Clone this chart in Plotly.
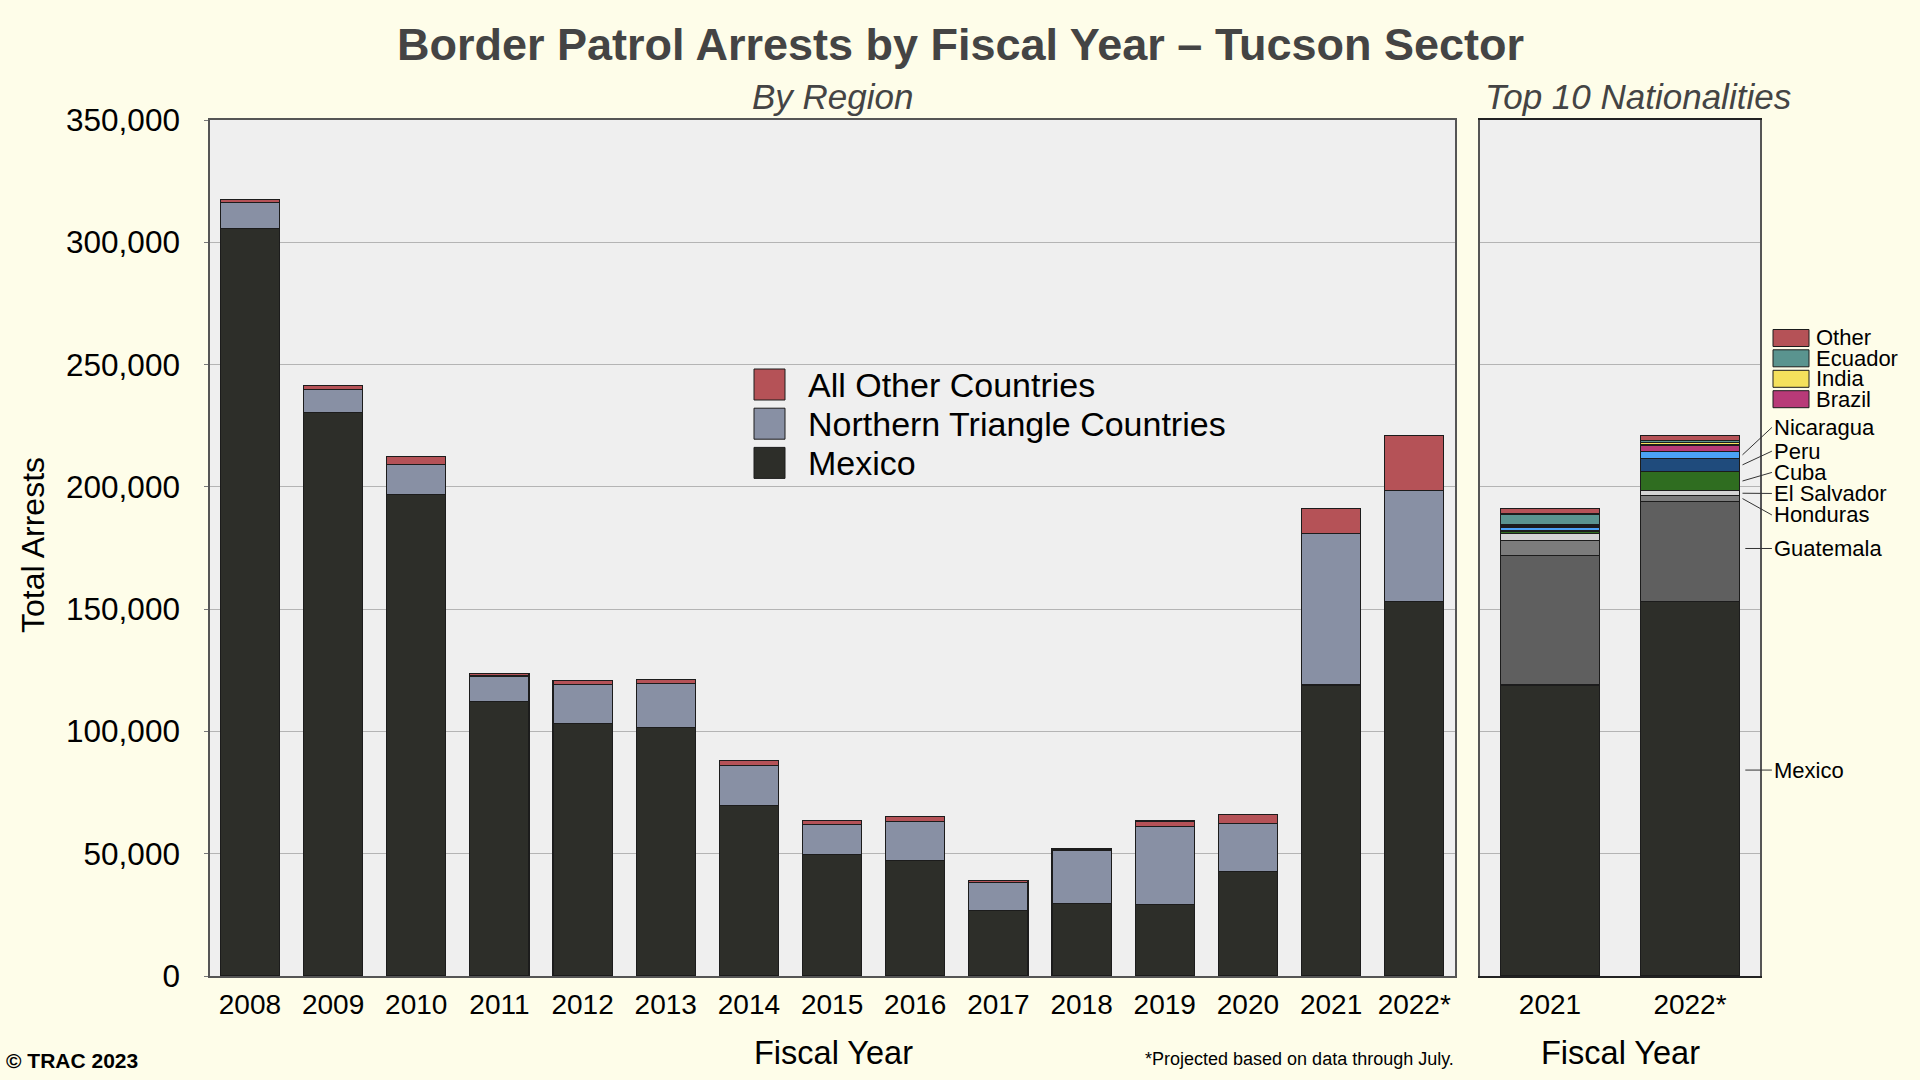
import plotly.graph_objects as go

# ---------------- data ----------------
years = ["2008", "2009", "2010", "2011", "2012", "2013", "2014", "2015",
         "2016", "2017", "2018", "2019", "2020", "2021", "2022*"]
mexico = [305500, 230300, 196800, 112200, 103100, 101600, 69600, 49600,
          47100, 26700, 29600, 29200, 42700, 119000, 153000]
northern_triangle = [10800, 9500, 12500, 10500, 16100, 18100, 16500, 12500,
                     16000, 11600, 21600, 31900, 19600, 61800, 45400]
all_other = [1200, 1500, 3000, 1000, 1500, 1500, 2000, 1500,
             2000, 600, 700, 2300, 3700, 10400, 22600]

nat_years = ["2021", "2022*"]
nat_mexico = [119000, 153000]
nat_guatemala = [53000, 41000]
nat_honduras = [6200, 2400]
nat_el_salvador = [2600, 2000]
nat_cuba = [800, 8000]
nat_peru = [700, 5200]
nat_nicaragua = [1300, 3000]
nat_brazil = [500, 2500]
nat_india = [300, 1000]
nat_ecuador = [4500, 1000]
nat_other = [2300, 1900]

y_ticks = [0, 50000, 100000, 150000, 200000, 250000, 300000, 350000]

# ---------------- style ----------------
FONT = "Liberation Sans, Arial, Helvetica, sans-serif"
PAPER = "#fefde9"
PLOT = "#efefef"
GRID = "#b4b4b4"
OUTLINE = "#1c1c1c"

region_series = [
    ("Mexico", mexico, "#2d2e29"),
    ("Northern Triangle Countries", northern_triangle, "#8890a4"),
    ("All Other Countries", all_other, "#b55257"),
]
nat_series = [
    ("Mexico", nat_mexico, "#2d2e29"),
    ("Guatemala", nat_guatemala, "#5f5f5f"),
    ("Honduras", nat_honduras, "#7c7c7c"),
    ("El Salvador", nat_el_salvador, "#d4d4d4"),
    ("Cuba", nat_cuba, "#2f6d20"),
    ("Peru", nat_peru, "#1f4b7c"),
    ("Nicaragua", nat_nicaragua, "#4ba2f5"),
    ("Brazil", nat_brazil, "#b83a78"),
    ("India", nat_india, "#f5e15c"),
    ("Ecuador", nat_ecuador, "#5a948f"),
    ("Other", nat_other, "#b55257"),
]

fig = go.Figure()
for name, vals, col in region_series:
    fig.add_trace(go.Bar(x=years, y=vals, name=name, width=0.71,
                         marker=dict(color=col, line=dict(color=OUTLINE, width=1.2)),
                         xaxis="x", yaxis="y", showlegend=False))
for name, vals, col in nat_series:
    fig.add_trace(go.Bar(x=nat_years, y=vals, name=name, width=0.71,
                         marker=dict(color=col, line=dict(color=OUTLINE, width=1.2)),
                         xaxis="x2", yaxis="y2", showlegend=False))

W, H = 1920, 1080
def px(x):
    return x / W
def py(y):
    return 1 - y / H

dom_y = [py(976), py(120)]
axis_common = dict(showgrid=True, gridcolor=GRID, gridwidth=1, zeroline=False,
                   range=[0, 350000], tickvals=y_ticks, showline=True,
                   linecolor="#555555", linewidth=1.5, mirror=True,
                   automargin=False)

fig.update_layout(
    width=W, height=H, barmode="stack", bargap=0.29,
    paper_bgcolor=PAPER, plot_bgcolor=PLOT,
    margin=dict(l=0, r=0, t=0, b=0, pad=0, autoexpand=False),
    font=dict(family=FONT, color="#000000"),
    xaxis=dict(domain=[px(210), px(1455)], type="category", range=[-0.48, 14.49],
               showline=True, linecolor="#555555", linewidth=1.5, mirror=True,
               tickfont=dict(size=28), ticks="", ticklabelstandoff=3,
               automargin=False),
    yaxis=dict(domain=dom_y, tickformat=",", tickfont=dict(size=31.5),
               ticks="outside", ticklen=4, tickcolor="#777777",
               ticklabelstandoff=18, **axis_common),
    xaxis2=dict(domain=[px(1480), px(1760)], type="category", range=[-0.5, 1.5],
                showline=True, linecolor="#222222", linewidth=1.5, mirror=True,
                tickfont=dict(size=28), ticks="", ticklabelstandoff=3,
                automargin=False),
    yaxis2=dict(domain=dom_y, anchor="x2", showticklabels=False, ticks="",
                **axis_common),
)

ann = []
def text(x, y, s, size, **kw):
    d = dict(x=x, y=y, xref="paper", yref="paper", text=s, showarrow=False,
             font=dict(size=size, family=FONT, color=kw.pop("color", "#000000")))
    d.update(kw)
    ann.append(d)

text(0.5, py(44), "<b>Border Patrol Arrests by Fiscal Year – Tucson Sector</b>", 45,
     color="#444444", xanchor="center", yanchor="middle")
text(px(832), py(96), "<i>By Region</i>", 35, color="#444444",
     xanchor="center", yanchor="middle")
text(px(1638), py(96), "<i>Top 10 Nationalities</i>", 35, color="#444444",
     xanchor="center", yanchor="middle")
text(px(833), py(1053), "Fiscal Year", 32.5, xanchor="center", yanchor="middle")
text(px(1620), py(1053), "Fiscal Year", 32.5, xanchor="center", yanchor="middle")
text(px(33), py(545), "Total Arrests", 32, textangle=-90,
     xanchor="center", yanchor="middle")
text(px(4), py(1060), "<b>© TRAC 2023</b>", 21, xanchor="left", yanchor="middle")
text(px(1143), py(1059), "*Projected based on data through July.", 18,
     xanchor="left", yanchor="middle")

shapes = []
# left legend (top to bottom: All Other, Northern Triangle, Mexico)
leg_rows = [384.5, 423.7, 462.9]
for (name, _, col), yc in zip(region_series[::-1], leg_rows):
    shapes.append(dict(type="rect", xref="paper", yref="paper",
                       x0=px(754), x1=px(785), y0=py(yc + 15.5), y1=py(yc - 15.5),
                       fillcolor=col, line=dict(color=OUTLINE, width=1)))
    text(px(806), py(yc), name, 34, xanchor="left", yanchor="middle")

# right legend for small categories
small_rows = [338, 358.3, 378.8, 399.2]
small_names = ["Other", "Ecuador", "India", "Brazil"]
col_map = {n: c for n, _, c in nat_series}
for name, yc in zip(small_names, small_rows):
    shapes.append(dict(type="rect", xref="paper", yref="paper",
                       x0=px(1773), x1=px(1809), y0=py(yc + 8.5), y1=py(yc - 8.5),
                       fillcolor=col_map[name], line=dict(color=OUTLINE, width=1)))
    text(px(1814), py(yc), name, 22, xanchor="left", yanchor="middle")

# leader-line labels for the 2022* bar
label_pos = {"Nicaragua": 224300, "Peru": 214600, "Cuba": 205900,
             "El Salvador": 197300, "Honduras": 188500,
             "Guatemala": 174800, "Mexico": 84200}
horizontal = {"Guatemala", "Mexico"}
cum = 0
mids = {}
for name, vals, _ in nat_series:
    mids[name] = cum + vals[1] / 2
    cum += vals[1]
for name, ly in label_pos.items():
    head = ly if name in horizontal else mids[name]
    hx = 1.395 if name in horizontal else 1.375
    ann.append(dict(x=hx, y=head, xref="x2", yref="y2",
                    ax=1.585, ay=ly, axref="x2", ayref="y2",
                    text=name, showarrow=True, arrowhead=0, arrowwidth=1,
                    arrowcolor="#333333", xanchor="left", yanchor="middle",
                    font=dict(size=22, family=FONT, color="#000000")))

fig.update_layout(annotations=ann, shapes=shapes)
fig.write_html(
    "out.html",
    config={"displayModeBar": False},
    post_script=("document.body.style.margin='0';"
                 "document.body.style.overflow='hidden';"
                 "document.body.style.background='" + PAPER + "';"),
)
